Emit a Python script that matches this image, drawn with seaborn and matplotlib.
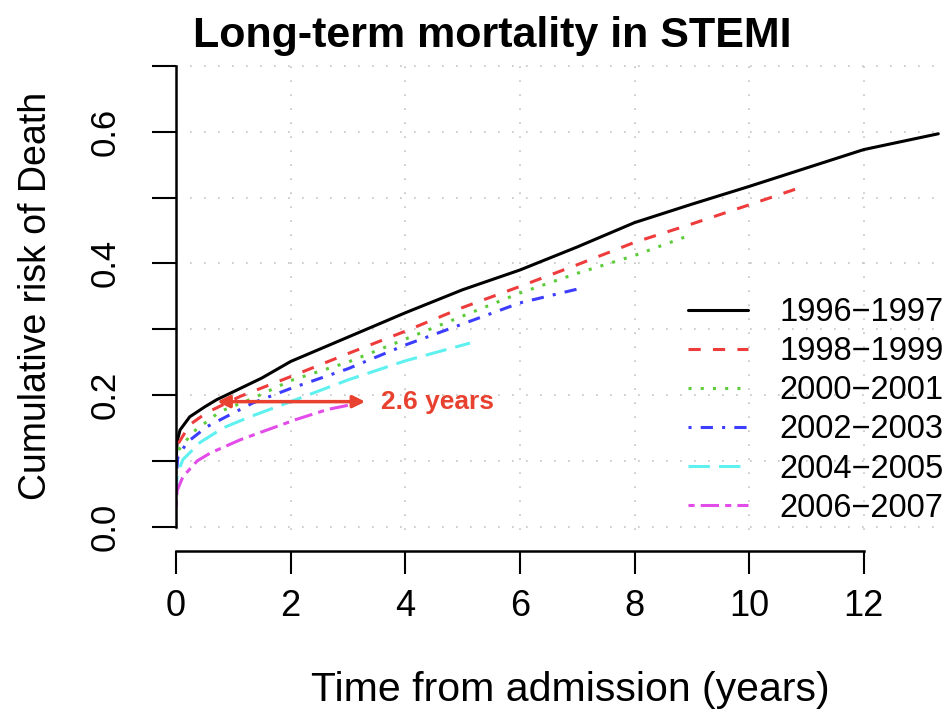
import pandas as pd
import matplotlib
matplotlib.use('Agg')
import matplotlib.pyplot as plt
from matplotlib.lines import Line2D
import seaborn as sns

sns.set_style('white')
plt.rcParams['font.family'] = ['Liberation Sans', 'DejaVu Sans']
plt.rcParams['text.color'] = 'black'
plt.rcParams['axes.labelcolor'] = 'black'

# 곡선 값
periods = ['1996\u22121997', '1998\u22121999', '2000\u22122001',
           '2002\u22122003', '2004\u22122005', '2006\u22122007']

t_9697 = [0, 0.02, 0.07, 0.24, 0.5, 0.71, 1, 1.5, 2, 3, 4, 5, 6, 7, 8, 9, 10, 11, 12, 13.3]
r_9697 = [0.10, 0.13, 0.147, 0.167, 0.182, 0.193, 0.205, 0.226, 0.251, 0.288, 0.325,
          0.36, 0.39, 0.425, 0.462, 0.49, 0.517, 0.545, 0.573, 0.597]

t_9899 = [0, 0.03, 0.24, 0.53, 1.12, 2, 3, 4, 5, 6, 7, 8, 9, 10, 10.95]
r_9899 = [0.09, 0.125, 0.155, 0.173, 0.198, 0.228, 0.263, 0.297, 0.333, 0.365,
          0.398, 0.432, 0.46, 0.489, 0.517]

t_0001 = [0, 0.03, 0.3, 0.77, 1.34, 2, 3, 4, 5, 6, 7, 8, 9.0]
r_0001 = [0.08, 0.115, 0.144, 0.175, 0.195, 0.222, 0.25, 0.285, 0.32, 0.355,
          0.385, 0.412, 0.444]

t_0203 = [0, 0.03, 0.19, 0.54, 1.34, 2, 3, 4, 5, 6, 7.05]
r_0203 = [0.07, 0.105, 0.128, 0.152, 0.188, 0.21, 0.24, 0.276, 0.308, 0.34, 0.362]

t_0405 = [0, 0.02, 0.12, 0.42, 0.82, 1.29, 2, 3, 4, 5.13]
r_0405 = [0.045, 0.08, 0.102, 0.128, 0.15, 0.167, 0.19, 0.223, 0.252, 0.279]

t_0607 = [0, 0.02, 0.12, 0.37, 0.6, 1.12, 1.59, 2.1, 2.64, 3.2]
r_0607 = [0.03, 0.055, 0.076, 0.1, 0.112, 0.132, 0.147, 0.163, 0.178, 0.188]

times = [t_9697, t_9899, t_0001, t_0203, t_0405, t_0607]
risks = [r_9697, r_9899, r_0001, r_0203, r_0405, r_0607]

colors = ['black', '#ee3b3b', '#5ccc3a', '#3d3dff', '#5ff0f0', '#e24ce8']
dash_list = ['', (4, 4), (1, 3), (1, 3, 4, 3), (7, 3), (2, 2, 6, 2)]

# long-form DataFrame
rows = []
for p, tt, rr in zip(periods, times, risks):
    for a, b in zip(tt, rr):
        rows.append({'period': p, 'time': a, 'risk': b})
df = pd.DataFrame(rows)

fig = plt.figure(figsize=(9.52, 7.19), dpi=100)
ax = fig.add_axes([0.1849, 0.2629, 0.8067, 0.6499])

lw = 2.2
sns.lineplot(data=df, x='time', y='risk', hue='period', style='period',
             palette=dict(zip(periods, colors)), dashes=dict(zip(periods, dash_list)),
             estimator=None, sort=False, linewidth=lw, legend=False, ax=ax)

ax.set_xlim(0, 13.4)
ax.set_ylim(-0.005, 0.705)

# 눈금 / 격자 (R grid() 느낌의 점선)
xt = [0, 2, 4, 6, 8, 10, 12]
yt = [0, 0.1, 0.2, 0.3, 0.4, 0.5, 0.6, 0.7]
ax.set_xticks(xt)
ax.set_yticks(yt)
ax.set_xticklabels([str(v) for v in xt])
ax.set_yticklabels(['0.0', '', '0.2', '', '0.4', '', '0.6', ''])
ax.grid(True, color='#c4c4c4', linewidth=1.2, dashes=(1, 7.4))
ax.set_axisbelow(True)

sns.despine(ax=ax)
ax.spines['left'].set_bounds(0, 0.7)
ax.spines['bottom'].set_bounds(0, 12)
ax.spines['bottom'].set_position(('outward', 15))
for s in ['left', 'bottom']:
    ax.spines[s].set_linewidth(1.8)
    ax.spines[s].set_color('black')

ax.tick_params(axis='x', length=16.5, width=1.5, direction='out', pad=11,
               labelsize=26, colors='black', bottom=True)
ax.tick_params(axis='y', length=17, width=1.5, direction='out', pad=22,
               labelsize=25, colors='black', left=True, labelrotation=90)
for lab in ax.get_yticklabels():
    lab.set_va('center')

ax.set_xlabel('Time from admission (years)', fontsize=29.5, labelpad=34)
ax.xaxis.label.set_x(0.514)
ax.set_ylabel('Cumulative risk of Death', fontsize=27, labelpad=25)

fig.text(0.517, 0.9346, 'Long-term mortality in STEMI', ha='center', va='baseline',
         fontsize=31, fontweight='bold')

# 2.6 years 화살표
red = '#e8412f'
ax.annotate('', xy=(0.72, 0.19), xytext=(3.3, 0.19),
            arrowprops=dict(arrowstyle='<|-|>', color=red, lw=2.5,
                            mutation_scale=18, shrinkA=0, shrinkB=0))
ax.text(3.58, 0.19, '2.6 years', color=red, fontsize=19, fontweight='bold',
        va='center', ha='left')

# 범례
handles = [Line2D([0], [0], color=c, lw=lw, dashes=d) if d
           else Line2D([0], [0], color=c, lw=lw)
           for c, d in zip(colors, dash_list)]
ax.legend(handles, periods, loc='upper left', bbox_to_anchor=(688 / 952, 1 - 297 / 719),
          bbox_transform=fig.transFigure, frameon=False, fontsize=23.5,
          handlelength=1.85, handletextpad=0.95, labelspacing=0.25,
          borderpad=0, borderaxespad=0)

fig.savefig('out.png', dpi=100)
